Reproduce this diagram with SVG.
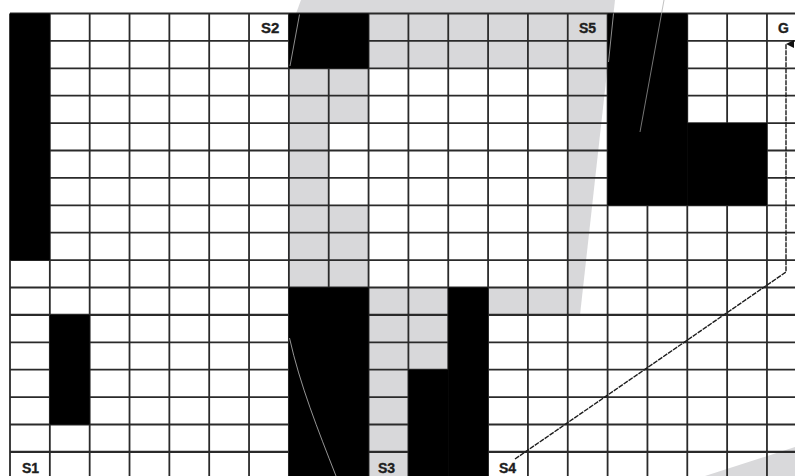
<svg xmlns="http://www.w3.org/2000/svg" width="795" height="476" viewBox="0 0 795 476">
  <defs>
    <style>
      .gray { fill: #d8d8da; }
      .black { fill: #000; }
      .wm { fill: #d9d9db; }
      .grid line { stroke: #2a2a2a; stroke-width: 1.8; }
      .lbl { font-family: "Liberation Sans", Arial, sans-serif; font-weight: bold; font-size: 14px; fill: #1e1e1e; stroke: #1e1e1e; stroke-width: 0.35; }
      .edge { fill: none; stroke: #c8c8c8; stroke-width: 0.7; }
      .route { fill: none; stroke: #1c1c1c; stroke-width: 1.4; stroke-dasharray: 5 1; }
    </style>
    <marker id="arrow" markerUnits="userSpaceOnUse" markerWidth="10" markerHeight="10" viewBox="0 0 10 10" refX="5" refY="1" orient="auto-start-reverse">
      <path d="M1,9 L5,1 L9,9 Z" fill="#111"/>
    </marker>
  </defs>

  <rect x="0" y="0" width="795" height="476" fill="#fff"/>

  <!-- watermark background tints -->
  <g id="watermark">
    <polygon class="wm" points="301,0 615,0 613.5,13.5 296,13.5"/>
    <polygon class="wm" points="705,476 795,447 795,476"/>
  </g>

  <!-- gray path cells -->
  <g id="cells-gray">
    <rect class="gray" x="368.56" y="13.5" width="239.04" height="54.8"/>
    <rect class="gray" x="288.88" y="68.3" width="39.84" height="219.2"/>
    <rect class="gray" x="328.72" y="68.3" width="39.84" height="54.8"/>
    <rect class="gray" x="328.72" y="205.3" width="39.84" height="82.2"/>
    <rect class="gray" x="368.56" y="287.5" width="79.68" height="27.4"/>
    <rect class="gray" x="368.56" y="314.9" width="39.84" height="170"/>
    <rect class="gray" x="408.4" y="314.9" width="39.84" height="54.8"/>
    <rect class="gray" x="488.08" y="287.5" width="79.68" height="27.4"/>
    <polygon class="gray" points="567.76,68.3 607.4,68.3 580,314.9 567.76,314.9"/>
  </g>

  <!-- grid -->
  <g id="grid" class="grid">
    <line x1="10" y1="13.5" x2="10" y2="476"/>
    <line x1="49.84" y1="13.5" x2="49.84" y2="476"/>
    <line x1="89.68" y1="13.5" x2="89.68" y2="476"/>
    <line x1="129.52" y1="13.5" x2="129.52" y2="476"/>
    <line x1="169.36" y1="13.5" x2="169.36" y2="476"/>
    <line x1="209.2" y1="13.5" x2="209.2" y2="476"/>
    <line x1="249.04" y1="13.5" x2="249.04" y2="476"/>
    <line x1="288.88" y1="13.5" x2="288.88" y2="476"/>
    <line x1="328.72" y1="13.5" x2="328.72" y2="476"/>
    <line x1="368.56" y1="13.5" x2="368.56" y2="476"/>
    <line x1="408.4" y1="13.5" x2="408.4" y2="476"/>
    <line x1="448.24" y1="13.5" x2="448.24" y2="476"/>
    <line x1="488.08" y1="13.5" x2="488.08" y2="476"/>
    <line x1="527.92" y1="13.5" x2="527.92" y2="476"/>
    <line x1="567.76" y1="13.5" x2="567.76" y2="476"/>
    <line x1="607.6" y1="13.5" x2="607.6" y2="476"/>
    <line x1="647.44" y1="13.5" x2="647.44" y2="476"/>
    <line x1="687.28" y1="13.5" x2="687.28" y2="476"/>
    <line x1="727.12" y1="13.5" x2="727.12" y2="476"/>
    <line x1="766.96" y1="13.5" x2="766.96" y2="476"/>
    <line x1="10" y1="13.5" x2="795" y2="13.5"/>
    <line x1="10" y1="40.9" x2="795" y2="40.9"/>
    <line x1="10" y1="68.3" x2="795" y2="68.3"/>
    <line x1="10" y1="95.7" x2="795" y2="95.7"/>
    <line x1="10" y1="123.1" x2="795" y2="123.1"/>
    <line x1="10" y1="150.5" x2="795" y2="150.5"/>
    <line x1="10" y1="177.9" x2="795" y2="177.9"/>
    <line x1="10" y1="205.3" x2="795" y2="205.3"/>
    <line x1="10" y1="232.7" x2="795" y2="232.7"/>
    <line x1="10" y1="260.1" x2="795" y2="260.1"/>
    <line x1="10" y1="287.5" x2="795" y2="287.5"/>
    <line x1="10" y1="314.9" x2="795" y2="314.9" style="stroke-width:2.4"/>
    <line x1="10" y1="342.3" x2="795" y2="342.3"/>
    <line x1="10" y1="369.7" x2="795" y2="369.7"/>
    <line x1="10" y1="397.1" x2="795" y2="397.1"/>
    <line x1="10" y1="424.5" x2="795" y2="424.5"/>
    <line x1="10" y1="451.9" x2="795" y2="451.9" style="stroke-width:2.3"/>
  </g>

  <!-- obstacles -->
  <g id="cells-black">
    <rect class="black" x="10" y="13.5" width="39.84" height="246.6"/>
    <rect class="black" x="49.84" y="314.9" width="39.84" height="109.6"/>
    <rect class="black" x="288.88" y="13.5" width="79.68" height="54.8"/>
    <rect class="black" x="288.88" y="287.5" width="79.68" height="190"/>
    <rect class="black" x="448.24" y="287.5" width="39.84" height="190"/>
    <rect class="black" x="408.4" y="369.7" width="39.84" height="110"/>
    <rect class="black" x="607.6" y="13.5" width="79.68" height="191.8"/>
    <rect class="black" x="687.28" y="123.1" width="79.68" height="82.2"/>
  </g>

  <!-- faint watermark edges, visible on the dark cells -->
  <g id="watermark-edges">
    <line class="edge" x1="613.5" y1="13.5" x2="608.5" y2="62"/>
    <line class="edge" x1="664" y1="0" x2="640" y2="132" style="stroke:#a8a8a8"/>
    <line class="edge" x1="299.5" y1="14.5" x2="290" y2="66"/>
    <path class="edge" d="M289.5,338 C300,385 318,430 336,476" style="stroke:#d4d4d4"/>
  </g>

  <!-- connector -->
  <g id="connectors">
    <path class="route" d="M515,459 L786,272 L786,44" marker-end="url(#arrow)"/>
  </g>

  <!-- labels -->
  <g id="S1"><text class="lbl" x="22" y="473">S1</text></g>
  <g id="S2"><text class="lbl" x="261" y="33" style="font-size:15px">S2</text></g>
  <g id="S3"><text class="lbl" x="378" y="473">S3</text></g>
  <g id="S4"><text class="lbl" x="499" y="473">S4</text></g>
  <g id="S5"><text class="lbl" x="579" y="33">S5</text></g>
  <g id="G"><text class="lbl" x="778" y="33">G</text></g>
</svg>
